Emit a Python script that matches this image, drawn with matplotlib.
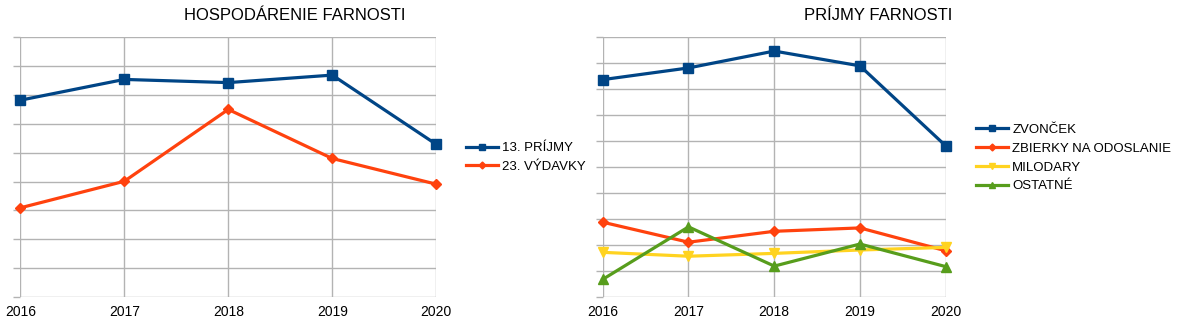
import matplotlib.pyplot as plt

plt.rcParams['font.family'] = ['Liberation Sans', 'DejaVu Sans']

years = [2016, 2017, 2018, 2019, 2020]

prijmy = [6.82, 7.54, 7.43, 7.69, 5.29]
vydavky = [3.09, 4.01, 6.50, 4.80, 3.91]

# prijmy farnosti
zvoncek = [8.37, 8.82, 9.47, 8.90, 5.82]
zbierky = [2.88, 2.11, 2.53, 2.66, 1.78]
milodary = [1.72, 1.57, 1.68, 1.81, 1.91]
ostatne = [0.68, 2.70, 1.19, 2.04, 1.17]

BLUE = '#004586'
ORANGE = '#ff420e'
YELLOW = '#ffd320'
GREEN = '#579d1c'
GRID = '#b3b3b3'

fig = plt.figure(figsize=(11.77, 3.28), dpi=100)
ax1 = fig.add_axes([0.01725, 0.0945, 0.3534, 0.7918])
ax2 = fig.add_axes([0.5121, 0.0945, 0.2914, 0.7918])


def style(ax, ymax):
    ax.set_xlim(years[0], years[-1])
    ax.set_ylim(0, ymax)
    ax.set_xticks(years)
    ax.set_yticks(range(ymax + 1))
    ax.set_yticklabels([])
    ax.grid(True, color=GRID, linewidth=1)
    ax.set_axisbelow(True)
    for s in ax.spines.values():
        s.set_visible(False)
    ax.tick_params(axis='y', length=5, color=GRID, width=1)
    ax.tick_params(axis='x', length=0, pad=6, labelsize=10)


style(ax1, 9)
style(ax2, 10)

lw = 2.3
ax1.plot(years, prijmy, color=BLUE, lw=lw, marker='s', ms=6.5, clip_on=False, label='13. PRÍJMY')
ax1.plot(years, vydavky, color=ORANGE, lw=lw, marker='D', ms=5, clip_on=False, label='23. VÝDAVKY')

ax2.plot(years, zvoncek, color=BLUE, lw=lw, marker='s', ms=6.5, clip_on=False, label='ZVONČEK')
ax2.plot(years, zbierky, color=ORANGE, lw=lw, marker='D', ms=5, clip_on=False, label='ZBIERKY NA ODOSLANIE')
ax2.plot(years, milodary, color=YELLOW, lw=lw, marker='v', ms=7, clip_on=False, label='MILODARY')
ax2.plot(years, ostatne, color=GREEN, lw=lw, marker='^', ms=7, clip_on=False, label='OSTATNÉ')

leg_kw = dict(frameon=False, fontsize=9.5, handlelength=2.4, handletextpad=0.35,
              labelspacing=0.5, borderpad=0, borderaxespad=0, loc='center left',
              markerscale=0.7)
fig.legend(handles=ax1.get_lines(), bbox_to_anchor=(466 / 1177, 1 - 157.5 / 328), **leg_kw)
fig.legend(handles=ax2.get_lines(), bbox_to_anchor=(976 / 1177, 1 - 158 / 328), **leg_kw)

fig.text(295 / 1177, 1 - 16 / 328, 'HOSPODÁRENIE FARNOSTI', ha='center', va='center', fontsize=12)
fig.text(878 / 1177, 1 - 16 / 328, 'PRÍJMY FARNOSTI', ha='center', va='center', fontsize=12)

fig.savefig('out.png', dpi=100)
